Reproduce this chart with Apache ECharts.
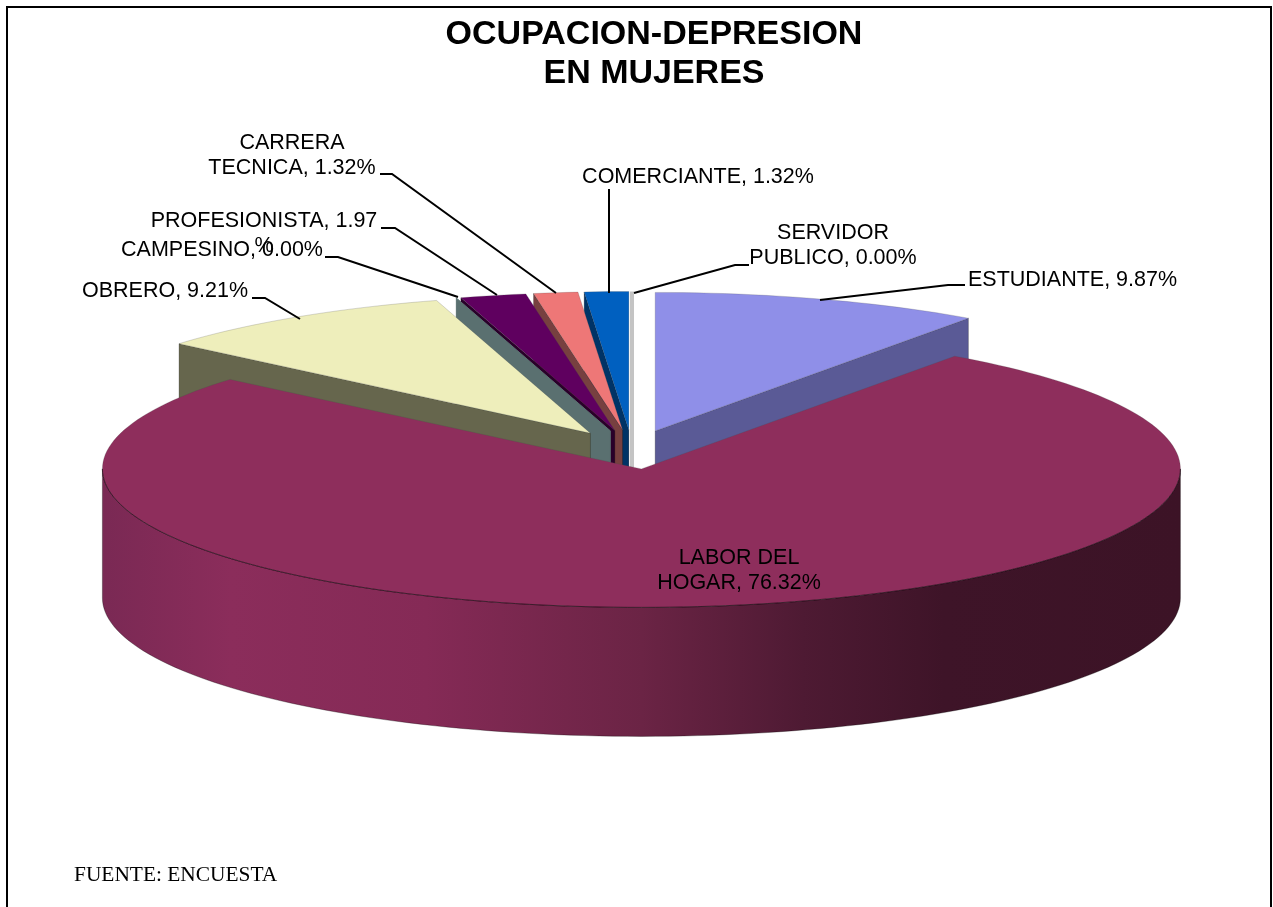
<!DOCTYPE html>
<html>
<head>
<meta charset="utf-8">
<title>OCUPACION-DEPRESION EN MUJERES</title>
<script src="https://cdn.jsdelivr.net/npm/echarts@6/dist/echarts.min.js"></script>
<style>
    html, body { margin: 0; padding: 0; background: #fff; }
    #chartPie { width: 1273px; height: 907px; }
</style>
</head>
<body>
<div id="chartPie"></div>
<script>
    // pie order, clockwise from 12 o'clock
    var categories = ['ESTUDIANTE', 'LABOR DEL\nHOGAR', 'OBRERO', 'CAMPESINO', 'PROFESIONISTA', 'CARRERA\nTECNICA', 'COMERCIANTE', 'SERVIDOR\nPUBLICO'];
    var percents = [9.87, 76.32, 9.21, 0.00, 1.97, 1.32, 1.32, 0.00];
    var topColors = ['#8f8fe8', '#8e2e5c', '#eeeebb', '#5a7070', '#5f005f', '#ee7777', '#0060c0', '#c4c4c4'];
    var faceColors = ['#5a5a96', '#5e1f3d', '#66664d', '#5a7070', '#2a002a', '#774040', '#003366', '#c4c4c4'];
    // painter's order, the big slice has to cover the others
    var drawOrder = [0, 7, 6, 5, 4, 3, 2, 1];

    // label box centre and leader line for each slice, same order as categories
    var labelLayout = [
        { x: 1072.5, y: 280, line: [[820, 300], [948, 285], [965, 285]] },
        { x: 739, y: 571 },
        { x: 165, y: 291, line: [[252, 298], [265, 298], [300, 319]] },
        { x: 222, y: 250, line: [[325, 257], [338, 257], [458, 297]] },
        { x: 264, y: 234, line: [[381, 228], [395, 228], [497, 295]] },
        { x: 292, y: 156, line: [[380, 174], [392, 174], [556, 293]] },
        { x: 698, y: 177, line: [[609, 189], [609, 293]] },
        { x: 833, y: 246, line: [[634, 293], [735, 265], [749, 265]] }
    ];

    var cx = 632, cy = 449.5, rx = 539, ry = 138.5, depth = 129, explode = 0.141;
    var total = percents.reduce(function (a, b) { return a + b; }, 0);

    var startAngles = [];
    percents.reduce(function (sum, v, i) {
        startAngles[i] = sum / total * 360;
        return sum + v;
    }, 0);

    function rimPoint(ox, oy, deg, dy) {
        var r = deg * Math.PI / 180;
        return [ox + rx * Math.sin(r), oy - ry * Math.cos(r) + (dy || 0)];
    }

    function arcPoints(ox, oy, from, to, dy) {
        var pts = [], n = Math.max(1, Math.ceil((to - from) / 1.5));
        for (var i = 0; i <= n; i++) {
            pts.push(rimPoint(ox, oy, from + (to - from) * i / n, dy));
        }
        return pts;
    }

    function poly(points, fill, stroke, width) {
        return {
            type: 'polygon',
            shape: { points: points },
            style: { fill: fill, stroke: stroke, lineWidth: width }
        };
    }

    function radialFace(ox, oy, deg, color, width) {
        var rim = rimPoint(ox, oy, deg);
        return poly([[ox, oy], rim, [rim[0], rim[1] + depth], [ox, oy + depth]], color, width ? color : 'rgba(0,0,0,0.4)', width || 0.6);
    }

    function renderSlice(params, api) {
        var i = api.value(0);
        var from = api.value(1), to = api.value(2);
        var mid = (from + to) / 2 * Math.PI / 180;
        var ox = cx + explode * rx * Math.sin(mid);
        var oy = cy - explode * ry * Math.cos(mid);
        var children = [];

        // outer wall, only the front half can be seen
        var a = Math.max(from, 90), b = Math.min(to, 270);
        if (b > a) {
            var wall = arcPoints(ox, oy, a, b, 0).concat(arcPoints(ox, oy, a, b, depth).reverse());
            children.push(poly(wall, new echarts.graphic.LinearGradient(0, 0, 1, 0, [
                { offset: 0, color: '#7a2954' },
                { offset: 0.12, color: '#8b2d5b' },
                { offset: 0.3, color: '#852a56' },
                { offset: 0.5, color: '#6b2445' },
                { offset: 0.65, color: '#4e1a33' },
                { offset: 0.78, color: '#3e1428' },
                { offset: 1, color: '#3c1326' }
            ]), 'rgba(0,0,0,0.5)', 0.6));
        }

        var isEmpty = to - from < 0.001;
        if (from > 180 && from < 360) {
            children.push(radialFace(ox, oy, from, faceColors[i], isEmpty ? 1 : 0));
        } else if (isEmpty) {
            children.push(radialFace(ox, oy, from, faceColors[i], 4));
        } else if (to > 0 && to < 180) {
            children.push(radialFace(ox, oy, to, faceColors[i]));
        }

        if (!isEmpty) {
            var topFace = [[ox, oy]].concat(arcPoints(ox, oy, from, to, 0));
            children.push(poly(topFace, topColors[i], 'rgba(70,70,70,0.35)', 0.6));
        }
        if (b > a) {
            children.push({
                type: 'polyline',
                shape: { points: arcPoints(ox, oy, a, b, 0) },
                style: { fill: null, stroke: 'rgba(20,0,10,0.75)', lineWidth: 0.8 }
            });
        }
        return { type: 'group', children: children };
    }

    var sliceData = drawOrder.map(function (i) {
        return [i, startAngles[i], startAngles[i] + percents[i] / total * 360];
    });

    var graphics = [
        // frame, the bottom edge is off the picture
        {
            type: 'polyline',
            z: 5,
            shape: { points: [[7, 907], [7, 7], [1271, 7], [1271, 907]] },
            style: { fill: null, stroke: '#000', lineWidth: 2 }
        },
        {
            type: 'text',
            z: 10,
            x: 74,
            y: 875,
            style: { text: 'FUENTE: ENCUESTA', font: '21.4px "Liberation Serif"', fill: '#000', textAlign: 'left', textVerticalAlign: 'middle' }
        }
    ];

    categories.forEach(function (name, i) {
        var text = name + ', ' + percents[i].toFixed(2) + '%';
        if (name === 'PROFESIONISTA') {
            text = text.replace('%', '\n%');
        }
        var pos = labelLayout[i];
        graphics.push({
            type: 'text',
            z: 10,
            x: pos.x,
            y: pos.y,
            style: { text: text, font: '21.5px "Liberation Sans"', lineHeight: 25, fill: '#000', textAlign: 'center', textVerticalAlign: 'middle' }
        });
        if (pos.line) {
            graphics.push({
                type: 'polyline',
                z: 10,
                shape: { points: pos.line },
                style: { fill: null, stroke: '#000', lineWidth: 2 }
            });
        }
    });

    var chartPie = echarts.init(document.getElementById('chartPie'), null, { renderer: 'canvas' });
    chartPie.setOption({
        backgroundColor: '#fff',
        animation: false,
        title: {
            text: 'OCUPACION-DEPRESION\nEN MUJERES',
            left: 649,
            top: 10,
            textAlign: 'center',
            textStyle: { fontFamily: 'Liberation Sans', fontWeight: 'bold', fontSize: 34, lineHeight: 39, color: '#000' }
        },
        graphic: graphics,
        series: [{
            type: 'custom',
            coordinateSystem: 'none',
            silent: true,
            renderItem: renderSlice,
            data: sliceData
        }]
    });
</script>
</body>
</html>
